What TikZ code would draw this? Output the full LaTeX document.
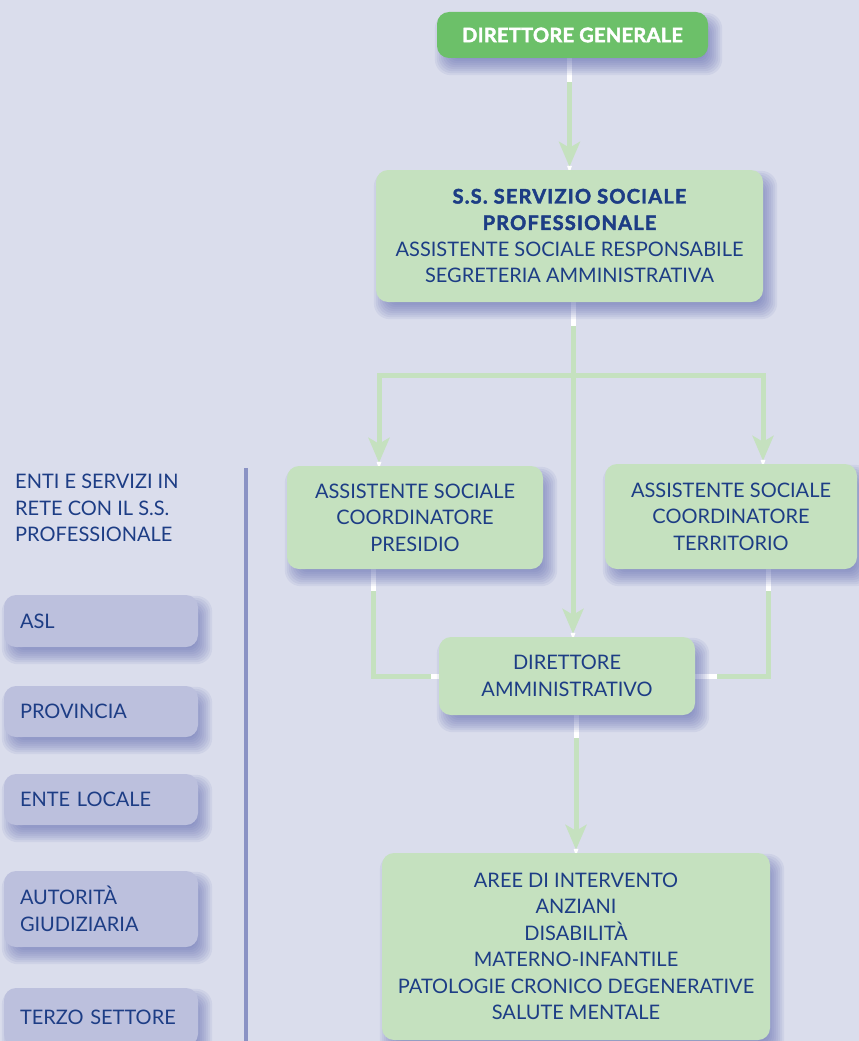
\documentclass[tikz,border=0pt]{standalone}
\usepackage{fontspec}
\setmainfont{Lato}
\usetikzlibrary{arrows.meta}
\definecolor{bgc}{HTML}{DADDEC}
\definecolor{dkgreen}{HTML}{6CC069}
\definecolor{ltgreen}{HTML}{C5E1BF}
\definecolor{navy}{HTML}{1D3D85}
\definecolor{lilac}{HTML}{BCC0DD}
\definecolor{shadowblue}{HTML}{5A64AE}
\definecolor{rulecol}{HTML}{8A92C4}
\pgfdeclarelayer{bg}
\pgfdeclarelayer{links}
\pgfdeclarelayer{shadow}
\pgfsetlayers{bg,links,shadow,main}
% heavy headline weight
\newcommand\heavy[1]{{\bfseries\addfontfeatures{FakeBold=2.2,LetterSpace=6}#1}}
% soft drop shadow under a named node
\newcommand\castshadow[1]{%
  \foreach \k in {0,...,8}{%
    \pgfmathsetmacro\rr{8+\k}%
    \pgfmathsetmacro\ina{14-2*\k}%
    \pgfmathsetmacro\inb{17-2*\k}%
    \pgfmathsetmacro\outa{-2+2*\k}%
    \pgfmathsetmacro\outb{1+2*\k}%
    \fill[shadowblue, fill opacity=0.09, rounded corners=\rr pt]
      ([shift={(\ina,\inb)}]#1.north west) rectangle ([shift={(\outa,\outb)}]#1.south east);
  }}
% small white point at the end of an arrow
\newcommand\whitetip[1]{\fill[white] #1 -- ++(-2.5,-7) -- ++(5,0) -- cycle;}
\begin{document}
\begin{tikzpicture}[x=1pt,y=-1pt,
  card/.style={rectangle, rounded corners=12pt, inner sep=0pt, align=center,
    text=navy, font=\fontsize{20}{26.5}\selectfont},
  greenbox/.style={card, fill=ltgreen},
  topbox/.style={card, fill=dkgreen, text=white,
    font=\fontsize{20}{24}\selectfont\bfseries\addfontfeatures{FakeBold=2.2,LetterSpace=1.5}},
  sidebox/.style={card, fill=lilac, align=left, text width=162pt, inner xsep=16pt,
    minimum width=194pt},
  link/.style={draw=ltgreen, line width=5pt},
  arrow/.style={link, -{Stealth[length=25pt, width=21pt, inset=6pt]}, shorten >=3pt},
  whiteseg/.style={draw=white, line width=5pt}
]
\useasboundingbox (0,0) rectangle (859,1041);
\begin{pgfonlayer}{bg}
  \fill[bgc] (0,0) rectangle (859,1041);
\end{pgfonlayer}

% main chart
\node[topbox, minimum width=271pt, minimum height=46pt] (gen) at (572.5,35) {DIRETTORE GENERALE};
\node[greenbox, minimum width=387pt, minimum height=132pt] (ss) at (569.5,236)
  {\heavy{S.S. SERVIZIO SOCIALE}\\\heavy{PROFESSIONALE}\\ASSISTENTE SOCIALE RESPONSABILE\\SEGRETERIA AMMINISTRATIVA};
\node[greenbox, minimum width=256pt, minimum height=103pt] (pres) at (415,517.5)
  {ASSISTENTE SOCIALE\\COORDINATORE\\PRESIDIO};
\node[greenbox, minimum width=252pt, minimum height=105pt] (terr) at (731,516.5)
  {ASSISTENTE SOCIALE\\COORDINATORE\\TERRITORIO};
\node[greenbox, minimum width=256pt, minimum height=78pt] (da) at (567,676)
  {DIRETTORE\\AMMINISTRATIVO};
\node[greenbox, minimum width=388pt, minimum height=187pt] (aree) at (576,946.5)
  {AREE DI INTERVENTO\\ANZIANI\\DISABILITÀ\\MATERNO-INFANTILE\\PATOLOGIE CRONICO DEGENERATIVE\\SALUTE MENTALE};

% network column
\node[anchor=west, align=left, inner sep=0pt, text=navy, font=\fontsize{20}{26.5}\selectfont] (enti) at (15,508)
  {ENTI E SERVIZI IN\\RETE CON IL S.S.\\PROFESSIONALE};
\node[sidebox, minimum height=52pt] (asl) at (101,621) {ASL};
\node[sidebox, minimum height=51pt] (prov) at (101,711.5) {PROVINCIA};
\node[sidebox, minimum height=51pt] (ente) at (101,799.5) {ENTE LOCALE};
\node[sidebox, minimum height=76pt] (aut) at (101,909) {AUTORITÀ\\GIUDIZIARIA};
\node[sidebox, minimum height=58pt] (terzo) at (101,1017) {TERZO SETTORE};

\draw[rulecol, line width=4pt] (246,468) -- (246,1041);

% shadows
\begin{pgfonlayer}{shadow}
  \foreach \n in {gen,ss,pres,terr,da,aree,asl,prov,ente,aut,terzo}{\castshadow{\n}}
\end{pgfonlayer}

% connectors
\coordinate (hub) at (573,375);
\begin{pgfonlayer}{links}
  \draw[arrow] (gen.south -| ss.north) -- (ss.north);
  \draw[whiteseg] (gen.south -| ss.north) -- ++(0,24);
  \whitetip{([yshift=-3pt]ss.north)}

  \draw[arrow] (ss.south -| hub) -- (da.north -| hub);
  \draw[whiteseg] (ss.south -| hub) -- ++(0,24);
  \whitetip{([yshift=-3pt]da.north -| hub)}
  \draw[arrow] (hub) -| ([xshift=-36pt]pres.north);
  \whitetip{([shift={(-36pt,-3pt)}]pres.north)}
  \draw[arrow] (hub) -| ([xshift=32pt]terr.north);
  \whitetip{([shift={(32pt,-3pt)}]terr.north)}

  \draw[link] ([xshift=-42pt]pres.south) |- (da.west);
  \draw[whiteseg] ([xshift=-42pt]pres.south) -- ++(0,22);
  \draw[whiteseg] (da.west) -- ++(-8,0);
  \draw[link] ([xshift=37pt]terr.south) |- (da.east);
  \draw[whiteseg] ([xshift=37pt]terr.south) -- ++(0,22);
  \draw[whiteseg] (da.east) -- ++(22,0);

  \draw[arrow] (da.south -| aree.north) -- (aree.north);
  \draw[whiteseg] (da.south -| aree.north) -- ++(0,23);
  \whitetip{([yshift=-3pt]aree.north)}
\end{pgfonlayer}
\end{tikzpicture}
\end{document}
